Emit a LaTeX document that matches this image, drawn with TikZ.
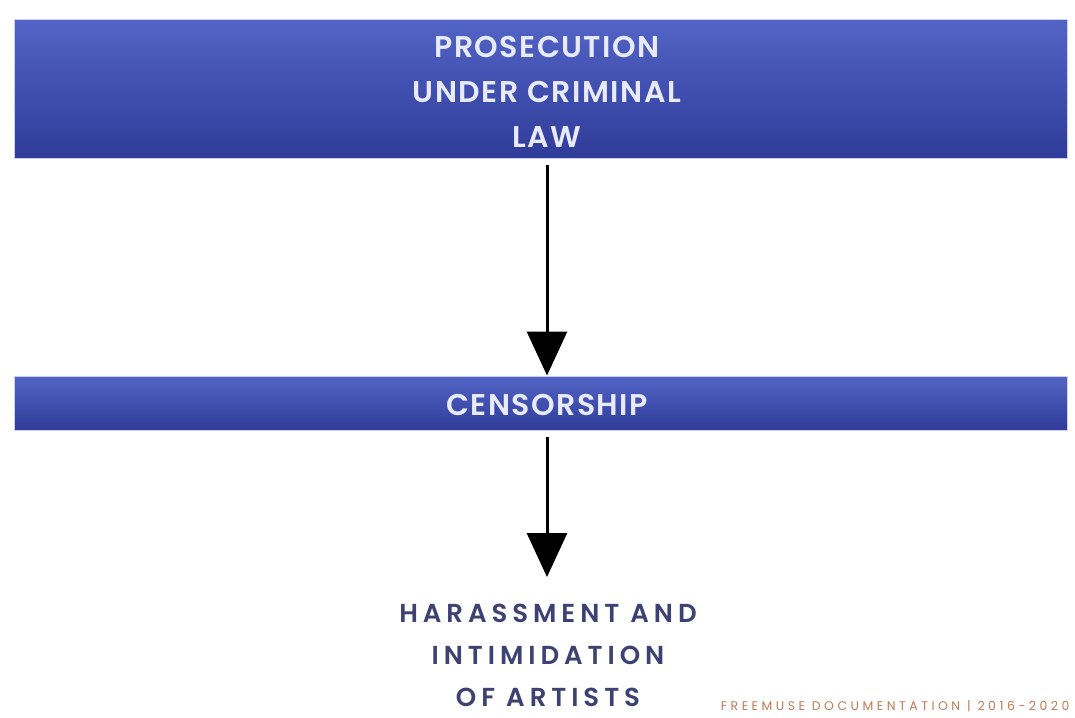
\documentclass[tikz,border=0pt]{standalone}
\usepackage{fontspec}
\setmainfont{Poppins}
\newfontfamily\barfont[LetterSpace=5]{Poppins SemiBold}
\newfontfamily\endfont[LetterSpace=19]{Poppins SemiBold}
\newfontfamily\footfont[LetterSpace=28]{Poppins}
\usetikzlibrary{arrows.meta}
\definecolor{boxtop}{HTML}{5264C6}
\definecolor{boxbot}{HTML}{2F3B98}
\definecolor{boxedge}{HTML}{C9CEF2}
\definecolor{boxtext}{HTML}{E8EAFF}
\definecolor{endtext}{HTML}{3D4272}
\definecolor{foot}{HTML}{C27A55}
\tikzset{
  bar/.style={draw=boxedge, line width=1pt, top color=boxtop, bottom color=boxbot, minimum width=1053pt, inner sep=0pt},
  bartext/.style={text=boxtext, font=\barfont\fontsize{30}{45}\selectfont, align=center},
  flow/.style={line width=3pt, -{Triangle[length=44pt,width=40pt]}},
}
\begin{document}
\begin{tikzpicture}[x=1pt,y=-1pt]
\useasboundingbox (0,0) rectangle (1075,717);
\fill[white] (0,0) rectangle (1075,717);
\node[bar, minimum height=138pt] (p) at (540.5,89) {};
\node[bartext] (pt) at (547,92) {PROSECUTION\\UNDER CRIMINAL\\LAW};
\node[bar, minimum height=54pt] (c) at (540.5,403) {};
\node[bartext] (ct) at (547,405) {CENSORSHIP};
\node[text=endtext, font=\endfont\fontsize{26}{42}\selectfont, align=center] (h) at (548,655) {HARASSMENT AND\\INTIMIDATION\\OF ARTISTS};
\node[text=foot, font=\footfont\fontsize{12.5}{14}\selectfont, anchor=east] (f) at (1073,706) {FREEMUSE DOCUMENTATION | 2016-2020};
\draw[flow] (p.south -| pt) ++(0,6) -- (c.north -| pt);
\draw[flow] (c.south -| ct) ++(0,6) -- (547,577);
\end{tikzpicture}
\end{document}
